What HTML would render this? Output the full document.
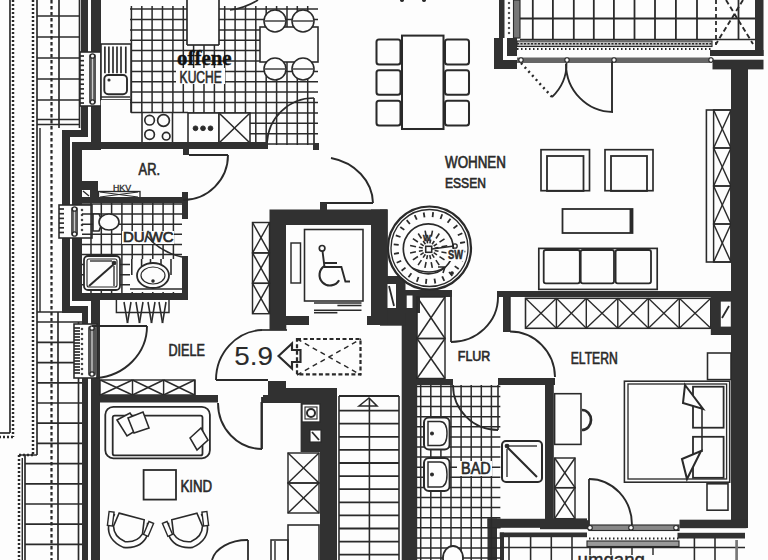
<!DOCTYPE html>
<html><head><meta charset="utf-8"><style>
html,body{margin:0;padding:0;background:#fdfdfd;}
svg{display:block;}
</style></head><body>
<svg width="768" height="560" viewBox="0 0 768 560">
<rect x="0" y="0" width="768" height="560" fill="#fdfdfd"/>
<line x1="10" y1="0" x2="10" y2="433" stroke="#2a2a2a" stroke-width="1.68" />
<line x1="0" y1="433" x2="10" y2="433" stroke="#2a2a2a" stroke-width="1.68" />
<line x1="13" y1="0" x2="13" y2="437" stroke="#2a2a2a" stroke-width="2.46" stroke-dasharray="2 2"/>
<line x1="13" y1="437" x2="0" y2="437" stroke="#2a2a2a" stroke-width="2.46" stroke-dasharray="2 2"/>
<line x1="33" y1="0" x2="33" y2="455" stroke="#2a2a2a" stroke-width="2.46" stroke-dasharray="2 2"/>
<line x1="33" y1="455" x2="19" y2="455" stroke="#2a2a2a" stroke-width="2.46" stroke-dasharray="2 2"/>
<line x1="19" y1="455" x2="19" y2="560" stroke="#2a2a2a" stroke-width="2.46" stroke-dasharray="2 2"/>
<line x1="37" y1="0" x2="37" y2="455" stroke="#2a2a2a" stroke-width="1.68" />
<line x1="40" y1="128" x2="40" y2="312" stroke="#2a2a2a" stroke-width="1.46" />
<line x1="59" y1="0" x2="59" y2="128" stroke="#2a2a2a" stroke-width="1.68" />
<line x1="79.5" y1="0" x2="79.5" y2="128" stroke="#2a2a2a" stroke-width="1.68" />
<line x1="37" y1="16" x2="80" y2="16" stroke="#2a2a2a" stroke-width="1.68" />
<line x1="37" y1="37" x2="80" y2="37" stroke="#2a2a2a" stroke-width="1.68" />
<line x1="37" y1="58" x2="80" y2="58" stroke="#2a2a2a" stroke-width="1.68" />
<line x1="37" y1="79" x2="80" y2="79" stroke="#2a2a2a" stroke-width="1.68" />
<line x1="37" y1="100" x2="80" y2="100" stroke="#2a2a2a" stroke-width="1.68" />
<line x1="37" y1="119.5" x2="80" y2="119.5" stroke="#2a2a2a" stroke-width="1.68" />
<line x1="37" y1="124.5" x2="80" y2="124.5" stroke="#2a2a2a" stroke-width="1.68" />
<line x1="51.5" y1="0" x2="51.5" y2="560" stroke="#2a2a2a" stroke-width="2.24" stroke-dasharray="3.5 2.5"/>
<line x1="37" y1="312" x2="80" y2="312" stroke="#2a2a2a" stroke-width="1.68" />
<line x1="37" y1="322" x2="82" y2="322" stroke="#2a2a2a" stroke-width="1.68" />
<line x1="37" y1="342.4" x2="82" y2="342.4" stroke="#2a2a2a" stroke-width="1.68" />
<line x1="37" y1="362.6" x2="82" y2="362.6" stroke="#2a2a2a" stroke-width="1.68" />
<line x1="37" y1="382.8" x2="82" y2="382.8" stroke="#2a2a2a" stroke-width="1.68" />
<line x1="37" y1="403.0" x2="82" y2="403.0" stroke="#2a2a2a" stroke-width="1.68" />
<line x1="37" y1="423.2" x2="82" y2="423.2" stroke="#2a2a2a" stroke-width="1.68" />
<line x1="37" y1="443.4" x2="82" y2="443.4" stroke="#2a2a2a" stroke-width="1.68" />
<line x1="25" y1="463.6" x2="82" y2="463.6" stroke="#2a2a2a" stroke-width="1.68" />
<line x1="25" y1="483.8" x2="82" y2="483.8" stroke="#2a2a2a" stroke-width="1.68" />
<line x1="25" y1="504.0" x2="82" y2="504.0" stroke="#2a2a2a" stroke-width="1.68" />
<line x1="25" y1="524.2" x2="82" y2="524.2" stroke="#2a2a2a" stroke-width="1.68" />
<line x1="25" y1="544.4" x2="82" y2="544.4" stroke="#2a2a2a" stroke-width="1.68" />
<line x1="20" y1="455" x2="37" y2="455" stroke="#2a2a2a" stroke-width="1.46" />
<line x1="22.3" y1="458" x2="22.3" y2="560" stroke="#2a2a2a" stroke-width="1.46" />
<line x1="25" y1="455" x2="25" y2="560" stroke="#2a2a2a" stroke-width="1.68" />
<line x1="58" y1="312" x2="58" y2="560" stroke="#2a2a2a" stroke-width="1.68" />
<line x1="78.5" y1="322" x2="78.5" y2="560" stroke="#2a2a2a" stroke-width="1.68" />
<rect x="81" y="0" width="7" height="137" fill="#313131" />
<rect x="62" y="130" width="26" height="7" fill="#313131" />
<rect x="62" y="130" width="8" height="183" fill="#313131" />
<rect x="62" y="306" width="26" height="7" fill="#313131" />
<rect x="82" y="306" width="6" height="254" fill="#313131" />
<rect x="91" y="0" width="10" height="150" fill="#313131" />
<rect x="72" y="142" width="29" height="8" fill="#313131" />
<rect x="72" y="142" width="10" height="159" fill="#313131" />
<rect x="72" y="293" width="28" height="8" fill="#313131" />
<rect x="91" y="293" width="9" height="267" fill="#313131" />
<rect x="80" y="52" width="21" height="54" fill="#fdfdfd" />
<rect x="80" y="52" width="21" height="54" rx="0" fill="none" stroke="#2a2a2a" stroke-width="1.57" />
<line x1="80" y1="56" x2="84" y2="56" stroke="#2a2a2a" stroke-width="1.68" />
<line x1="80" y1="60.7" x2="84" y2="60.7" stroke="#2a2a2a" stroke-width="1.68" />
<line x1="80" y1="65.4" x2="84" y2="65.4" stroke="#2a2a2a" stroke-width="1.68" />
<line x1="80" y1="70.1" x2="84" y2="70.1" stroke="#2a2a2a" stroke-width="1.68" />
<line x1="80" y1="74.8" x2="84" y2="74.8" stroke="#2a2a2a" stroke-width="1.68" />
<line x1="80" y1="79.5" x2="84" y2="79.5" stroke="#2a2a2a" stroke-width="1.68" />
<line x1="80" y1="84.2" x2="84" y2="84.2" stroke="#2a2a2a" stroke-width="1.68" />
<line x1="80" y1="88.9" x2="84" y2="88.9" stroke="#2a2a2a" stroke-width="1.68" />
<line x1="80" y1="93.6" x2="84" y2="93.6" stroke="#2a2a2a" stroke-width="1.68" />
<line x1="80" y1="98.3" x2="84" y2="98.3" stroke="#2a2a2a" stroke-width="1.68" />
<line x1="80" y1="103.0" x2="84" y2="103.0" stroke="#2a2a2a" stroke-width="1.68" />
<rect x="89" y="54" width="7" height="50" fill="#555" rx="2"/>
<line x1="92.5" y1="58" x2="92.5" y2="100" stroke="#ccc" stroke-width="1.34" />
<circle cx="92.5" cy="56" r="2.2" fill="#fdfdfd" stroke="#2a2a2a" stroke-width="1.34" />
<circle cx="92.5" cy="102" r="2.2" fill="#fdfdfd" stroke="#2a2a2a" stroke-width="1.34" />
<rect x="59" y="205" width="33" height="33" fill="#fdfdfd" />
<rect x="59" y="205" width="33" height="33" rx="0" fill="none" stroke="#2a2a2a" stroke-width="1.57" />
<line x1="59" y1="209" x2="64" y2="209" stroke="#2a2a2a" stroke-width="1.68" />
<line x1="59" y1="213.7" x2="64" y2="213.7" stroke="#2a2a2a" stroke-width="1.68" />
<line x1="59" y1="218.4" x2="64" y2="218.4" stroke="#2a2a2a" stroke-width="1.68" />
<line x1="59" y1="223.1" x2="64" y2="223.1" stroke="#2a2a2a" stroke-width="1.68" />
<line x1="59" y1="227.8" x2="64" y2="227.8" stroke="#2a2a2a" stroke-width="1.68" />
<line x1="59" y1="232.5" x2="64" y2="232.5" stroke="#2a2a2a" stroke-width="1.68" />
<circle cx="82" cy="210" r="0.9" fill="#2a2a2a" stroke="#2a2a2a" stroke-width="0.67" />
<circle cx="82" cy="215" r="0.9" fill="#2a2a2a" stroke="#2a2a2a" stroke-width="0.67" />
<circle cx="82" cy="220" r="0.9" fill="#2a2a2a" stroke="#2a2a2a" stroke-width="0.67" />
<circle cx="82" cy="225" r="0.9" fill="#2a2a2a" stroke="#2a2a2a" stroke-width="0.67" />
<circle cx="82" cy="230" r="0.9" fill="#2a2a2a" stroke="#2a2a2a" stroke-width="0.67" />
<rect x="71" y="207" width="7" height="29" fill="#555" rx="2"/>
<line x1="74.5" y1="211" x2="74.5" y2="232" stroke="#ccc" stroke-width="1.34" />
<circle cx="74.5" cy="209" r="2.2" fill="#fdfdfd" stroke="#2a2a2a" stroke-width="1.34" />
<circle cx="74.5" cy="234" r="2.2" fill="#fdfdfd" stroke="#2a2a2a" stroke-width="1.34" />
<rect x="74" y="324" width="23" height="54" fill="#fdfdfd" />
<rect x="74" y="324" width="23" height="54" rx="0" fill="none" stroke="#2a2a2a" stroke-width="1.57" />
<line x1="74" y1="328" x2="80" y2="328" stroke="#2a2a2a" stroke-width="1.68" />
<line x1="74" y1="331" x2="80" y2="331" stroke="#2a2a2a" stroke-width="1.68" />
<line x1="74" y1="334" x2="80" y2="334" stroke="#2a2a2a" stroke-width="1.68" />
<line x1="74" y1="337" x2="80" y2="337" stroke="#2a2a2a" stroke-width="1.68" />
<line x1="74" y1="340" x2="80" y2="340" stroke="#2a2a2a" stroke-width="1.68" />
<line x1="74" y1="343" x2="80" y2="343" stroke="#2a2a2a" stroke-width="1.68" />
<line x1="74" y1="346" x2="80" y2="346" stroke="#2a2a2a" stroke-width="1.68" />
<line x1="74" y1="349" x2="80" y2="349" stroke="#2a2a2a" stroke-width="1.68" />
<line x1="74" y1="352" x2="80" y2="352" stroke="#2a2a2a" stroke-width="1.68" />
<line x1="74" y1="355" x2="80" y2="355" stroke="#2a2a2a" stroke-width="1.68" />
<line x1="74" y1="358" x2="80" y2="358" stroke="#2a2a2a" stroke-width="1.68" />
<line x1="74" y1="361" x2="80" y2="361" stroke="#2a2a2a" stroke-width="1.68" />
<line x1="74" y1="364" x2="80" y2="364" stroke="#2a2a2a" stroke-width="1.68" />
<line x1="74" y1="367" x2="80" y2="367" stroke="#2a2a2a" stroke-width="1.68" />
<line x1="74" y1="370" x2="80" y2="370" stroke="#2a2a2a" stroke-width="1.68" />
<line x1="74" y1="373" x2="80" y2="373" stroke="#2a2a2a" stroke-width="1.68" />
<circle cx="82" cy="329" r="0.9" fill="#2a2a2a" stroke="#2a2a2a" stroke-width="0.67" />
<circle cx="82" cy="334" r="0.9" fill="#2a2a2a" stroke="#2a2a2a" stroke-width="0.67" />
<circle cx="82" cy="339" r="0.9" fill="#2a2a2a" stroke="#2a2a2a" stroke-width="0.67" />
<circle cx="82" cy="344" r="0.9" fill="#2a2a2a" stroke="#2a2a2a" stroke-width="0.67" />
<circle cx="82" cy="349" r="0.9" fill="#2a2a2a" stroke="#2a2a2a" stroke-width="0.67" />
<circle cx="82" cy="354" r="0.9" fill="#2a2a2a" stroke="#2a2a2a" stroke-width="0.67" />
<circle cx="82" cy="359" r="0.9" fill="#2a2a2a" stroke="#2a2a2a" stroke-width="0.67" />
<circle cx="82" cy="364" r="0.9" fill="#2a2a2a" stroke="#2a2a2a" stroke-width="0.67" />
<circle cx="82" cy="369" r="0.9" fill="#2a2a2a" stroke="#2a2a2a" stroke-width="0.67" />
<circle cx="82" cy="374" r="0.9" fill="#2a2a2a" stroke="#2a2a2a" stroke-width="0.67" />
<rect x="88" y="326" width="8" height="50" fill="#555" rx="2"/>
<line x1="92.0" y1="330" x2="92.0" y2="372" stroke="#ccc" stroke-width="1.34" />
<circle cx="92.0" cy="328" r="2.2" fill="#fdfdfd" stroke="#2a2a2a" stroke-width="1.34" />
<circle cx="92.0" cy="374" r="2.2" fill="#fdfdfd" stroke="#2a2a2a" stroke-width="1.34" />
<line x1="131.4" y1="6" x2="131.4" y2="145" stroke="#2a2a2a" stroke-width="1.51" />
<line x1="141.8" y1="6" x2="141.8" y2="145" stroke="#2a2a2a" stroke-width="1.51" />
<line x1="152.1" y1="6" x2="152.1" y2="145" stroke="#2a2a2a" stroke-width="1.51" />
<line x1="162.5" y1="6" x2="162.5" y2="145" stroke="#2a2a2a" stroke-width="1.51" />
<line x1="172.9" y1="6" x2="172.9" y2="145" stroke="#2a2a2a" stroke-width="1.51" />
<line x1="183.3" y1="6" x2="183.3" y2="145" stroke="#2a2a2a" stroke-width="1.51" />
<line x1="193.6" y1="6" x2="193.6" y2="145" stroke="#2a2a2a" stroke-width="1.51" />
<line x1="204.0" y1="6" x2="204.0" y2="145" stroke="#2a2a2a" stroke-width="1.51" />
<line x1="214.4" y1="6" x2="214.4" y2="145" stroke="#2a2a2a" stroke-width="1.51" />
<line x1="224.7" y1="6" x2="224.7" y2="145" stroke="#2a2a2a" stroke-width="1.51" />
<line x1="235.1" y1="6" x2="235.1" y2="145" stroke="#2a2a2a" stroke-width="1.51" />
<line x1="245.5" y1="6" x2="245.5" y2="145" stroke="#2a2a2a" stroke-width="1.51" />
<line x1="255.8" y1="6" x2="255.8" y2="145" stroke="#2a2a2a" stroke-width="1.51" />
<line x1="266.2" y1="6" x2="266.2" y2="145" stroke="#2a2a2a" stroke-width="1.51" />
<line x1="276.6" y1="6" x2="276.6" y2="145" stroke="#2a2a2a" stroke-width="1.51" />
<line x1="287.0" y1="6" x2="287.0" y2="145" stroke="#2a2a2a" stroke-width="1.51" />
<line x1="297.3" y1="6" x2="297.3" y2="145" stroke="#2a2a2a" stroke-width="1.51" />
<line x1="307.7" y1="6" x2="307.7" y2="145" stroke="#2a2a2a" stroke-width="1.51" />
<line x1="130" y1="9.1" x2="318" y2="9.1" stroke="#2a2a2a" stroke-width="1.51" />
<line x1="130" y1="19.5" x2="318" y2="19.5" stroke="#2a2a2a" stroke-width="1.51" />
<line x1="130" y1="29.9" x2="318" y2="29.9" stroke="#2a2a2a" stroke-width="1.51" />
<line x1="130" y1="40.2" x2="318" y2="40.2" stroke="#2a2a2a" stroke-width="1.51" />
<line x1="130" y1="50.6" x2="318" y2="50.6" stroke="#2a2a2a" stroke-width="1.51" />
<line x1="130" y1="61.0" x2="318" y2="61.0" stroke="#2a2a2a" stroke-width="1.51" />
<line x1="130" y1="71.4" x2="318" y2="71.4" stroke="#2a2a2a" stroke-width="1.51" />
<line x1="130" y1="81.8" x2="318" y2="81.8" stroke="#2a2a2a" stroke-width="1.51" />
<line x1="130" y1="92.1" x2="318" y2="92.1" stroke="#2a2a2a" stroke-width="1.51" />
<line x1="130" y1="102.5" x2="318" y2="102.5" stroke="#2a2a2a" stroke-width="1.51" />
<line x1="130" y1="112.9" x2="318" y2="112.9" stroke="#2a2a2a" stroke-width="1.51" />
<line x1="130" y1="123.3" x2="318" y2="123.3" stroke="#2a2a2a" stroke-width="1.51" />
<line x1="130" y1="133.7" x2="318" y2="133.7" stroke="#2a2a2a" stroke-width="1.51" />
<line x1="130" y1="144.0" x2="318" y2="144.0" stroke="#2a2a2a" stroke-width="1.51" />
<rect x="101" y="0" width="29" height="44" fill="#fdfdfd" />
<rect x="187" y="0" width="32" height="45" fill="#fdfdfd" />
<line x1="187" y1="0" x2="187" y2="45" stroke="#2a2a2a" stroke-width="1.68" />
<line x1="187" y1="45" x2="219" y2="45" stroke="#2a2a2a" stroke-width="1.68" />
<line x1="219" y1="0" x2="219" y2="45" stroke="#2a2a2a" stroke-width="1.68" />
<rect x="101" y="44" width="30" height="56" rx="0" fill="#fdfdfd" stroke="#2a2a2a" stroke-width="1.57" />
<line x1="104.9" y1="46.6" x2="104.9" y2="73.3" stroke="#2a2a2a" stroke-width="1.68" />
<line x1="108.9" y1="46.6" x2="108.9" y2="73.3" stroke="#2a2a2a" stroke-width="1.68" />
<line x1="113" y1="46.6" x2="113" y2="73.3" stroke="#2a2a2a" stroke-width="1.68" />
<line x1="117" y1="46.6" x2="117" y2="73.3" stroke="#2a2a2a" stroke-width="1.68" />
<line x1="121" y1="46.6" x2="121" y2="73.3" stroke="#2a2a2a" stroke-width="1.68" />
<line x1="125.8" y1="46.6" x2="125.8" y2="73.3" stroke="#2a2a2a" stroke-width="1.68" />
<rect x="104.3" y="75" width="22.7" height="19.2" rx="4" fill="none" stroke="#2a2a2a" stroke-width="1.90" />
<line x1="101" y1="97" x2="130" y2="97" stroke="#2a2a2a" stroke-width="1.46" />
<circle cx="109" cy="80" r="1" fill="#2a2a2a" stroke="#2a2a2a" stroke-width="1.12" />
<rect x="101" y="100" width="29" height="43" fill="#fdfdfd" />
<rect x="101" y="112.5" width="87" height="30" fill="#fdfdfd" />
<line x1="131" y1="100" x2="131" y2="112.5" stroke="#2a2a2a" stroke-width="1.57" />
<line x1="131" y1="112.5" x2="188" y2="112.5" stroke="#2a2a2a" stroke-width="1.68" />
<line x1="142" y1="112.5" x2="142" y2="143" stroke="#2a2a2a" stroke-width="1.57" />
<line x1="172.5" y1="112.5" x2="172.5" y2="143" stroke="#2a2a2a" stroke-width="1.57" />
<circle cx="149.6" cy="120.2" r="4.8" fill="none" stroke="#2a2a2a" stroke-width="1.68" />
<circle cx="163.5" cy="120.5" r="5.9" fill="none" stroke="#2a2a2a" stroke-width="1.68" />
<circle cx="149.6" cy="134.6" r="4.8" fill="none" stroke="#2a2a2a" stroke-width="1.68" />
<circle cx="166.2" cy="136.2" r="3.8" fill="none" stroke="#2a2a2a" stroke-width="1.68" />
<rect x="188" y="113" width="31" height="30" rx="0" fill="#fdfdfd" stroke="#2a2a2a" stroke-width="1.57" />
<circle cx="195.5" cy="128.3" r="2.4" fill="#2a2a2a" stroke="#2a2a2a" stroke-width="0.90" />
<circle cx="203" cy="128.3" r="2.4" fill="#2a2a2a" stroke="#2a2a2a" stroke-width="0.90" />
<circle cx="210.5" cy="128.3" r="2.4" fill="#2a2a2a" stroke="#2a2a2a" stroke-width="0.90" />
<rect x="219" y="113" width="31" height="30" fill="#fdfdfd" />
<rect x="219" y="113" width="31" height="30" rx="0" fill="none" stroke="#2a2a2a" stroke-width="1.57" />
<line x1="219" y1="113" x2="250" y2="143" stroke="#2a2a2a" stroke-width="1.57" />
<line x1="250" y1="113" x2="219" y2="143" stroke="#2a2a2a" stroke-width="1.57" />
<rect x="260" y="27" width="58" height="35" rx="0" fill="#fdfdfd" stroke="#2a2a2a" stroke-width="1.57" />
<circle cx="275" cy="21" r="11" fill="#fdfdfd" stroke="#2a2a2a" stroke-width="1.57" />
<line x1="265" y1="21" x2="285" y2="21" stroke="#2a2a2a" stroke-width="1.34" />
<circle cx="303" cy="21" r="11" fill="#fdfdfd" stroke="#2a2a2a" stroke-width="1.57" />
<line x1="293" y1="21" x2="313" y2="21" stroke="#2a2a2a" stroke-width="1.34" />
<circle cx="275" cy="69" r="11" fill="#fdfdfd" stroke="#2a2a2a" stroke-width="1.57" />
<line x1="265" y1="69" x2="285" y2="69" stroke="#2a2a2a" stroke-width="1.34" />
<circle cx="303" cy="69" r="11" fill="#fdfdfd" stroke="#2a2a2a" stroke-width="1.57" />
<line x1="293" y1="69" x2="313" y2="69" stroke="#2a2a2a" stroke-width="1.34" />
<path d="M230,10 Q245,8 258,0" fill="none" stroke="#2a2a2a" stroke-width="1.68" />
<path d="M267,143 A47,47 0 0 1 314,98" fill="none" stroke="#2a2a2a" stroke-width="1.68" />
<line x1="314" y1="98" x2="314" y2="143" stroke="#2a2a2a" stroke-width="1.68" />
<rect x="72" y="142" width="196" height="7" fill="#313131" />
<rect x="313" y="143" width="6" height="7" fill="#313131" />
<text x="0" y="0" font-family="Liberation Serif" font-size="20.42" font-weight="bold" fill="#111" stroke="#111" stroke-width="0.39" transform="translate(177.00,64.80) scale(1.026,1)" >offene</text>
<rect x="176" y="68" width="49" height="16" fill="#fdfdfd" />
<text x="0" y="0" font-family="Liberation Sans" font-size="16.90" font-weight="normal" fill="#2a2a2a" stroke="#2a2a2a" stroke-width="0.67" transform="translate(179.60,82.53) scale(0.713,1)" >KUCHE</text>
<rect x="72" y="142" width="196" height="7" fill="#313131" />
<rect x="80" y="181" width="18" height="22" fill="#313131" />
<rect x="82" y="190" width="8" height="7" fill="#fdfdfd" />
<line x1="83" y1="191" x2="89" y2="196" stroke="#2a2a2a" stroke-width="1.34" />
<rect x="98.5" y="191.5" width="41.5" height="6.5" rx="0" fill="none" stroke="#2a2a2a" stroke-width="1.34" />
<line x1="100" y1="192" x2="138" y2="197" stroke="#2a2a2a" stroke-width="1.12" />
<line x1="100" y1="197" x2="138" y2="192" stroke="#2a2a2a" stroke-width="1.12" />
<text x="0" y="0" font-family="Liberation Sans" font-size="9.42" font-weight="normal" fill="#2a2a2a" stroke="#2a2a2a" stroke-width="0.34" transform="translate(113.00,190.50) scale(0.930,1)" >HKV</text>
<rect x="72" y="197" width="115" height="6" fill="#313131" />
<rect x="182" y="192" width="6" height="27" fill="#313131" />
<rect x="183" y="149" width="6" height="6" fill="#313131" />
<line x1="189" y1="155" x2="228" y2="155" stroke="#2a2a2a" stroke-width="1.79" />
<path d="M228,155 A45,45 0 0 1 183,200" fill="none" stroke="#2a2a2a" stroke-width="1.90" />
<text x="0" y="0" font-family="Liberation Sans" font-size="16.67" font-weight="normal" fill="#2a2a2a" stroke="#2a2a2a" stroke-width="0.67" transform="translate(138.60,174.50) scale(0.771,1)" >AR.</text>
<line x1="91" y1="203" x2="91" y2="293" stroke="#2a2a2a" stroke-width="1.51" />
<line x1="101.3" y1="203" x2="101.3" y2="293" stroke="#2a2a2a" stroke-width="1.51" />
<line x1="111.6" y1="203" x2="111.6" y2="293" stroke="#2a2a2a" stroke-width="1.51" />
<line x1="121.9" y1="203" x2="121.9" y2="293" stroke="#2a2a2a" stroke-width="1.51" />
<line x1="132.2" y1="203" x2="132.2" y2="293" stroke="#2a2a2a" stroke-width="1.51" />
<line x1="142.5" y1="203" x2="142.5" y2="293" stroke="#2a2a2a" stroke-width="1.51" />
<line x1="152.8" y1="203" x2="152.8" y2="293" stroke="#2a2a2a" stroke-width="1.51" />
<line x1="163.1" y1="203" x2="163.1" y2="293" stroke="#2a2a2a" stroke-width="1.51" />
<line x1="173.4" y1="203" x2="173.4" y2="293" stroke="#2a2a2a" stroke-width="1.51" />
<line x1="82" y1="204" x2="182" y2="204" stroke="#2a2a2a" stroke-width="1.51" />
<line x1="82" y1="214.1" x2="182" y2="214.1" stroke="#2a2a2a" stroke-width="1.51" />
<line x1="82" y1="224.2" x2="182" y2="224.2" stroke="#2a2a2a" stroke-width="1.51" />
<line x1="82" y1="234.3" x2="182" y2="234.3" stroke="#2a2a2a" stroke-width="1.51" />
<line x1="82" y1="244.4" x2="182" y2="244.4" stroke="#2a2a2a" stroke-width="1.51" />
<line x1="82" y1="254.5" x2="182" y2="254.5" stroke="#2a2a2a" stroke-width="1.51" />
<line x1="82" y1="264.6" x2="182" y2="264.6" stroke="#2a2a2a" stroke-width="1.51" />
<line x1="82" y1="274.7" x2="182" y2="274.7" stroke="#2a2a2a" stroke-width="1.51" />
<line x1="82" y1="284.8" x2="182" y2="284.8" stroke="#2a2a2a" stroke-width="1.51" />
<path d="M93,214 L99,214 Q104,222 99,231 L93,231 Z" fill="#fdfdfd" stroke="#2a2a2a" stroke-width="1.57" />
<ellipse cx="109" cy="222" rx="10" ry="8" fill="#fdfdfd" stroke="#2a2a2a" stroke-width="1.6"/>
<rect x="122" y="231" width="52" height="13" fill="#fdfdfd" />
<text x="0" y="0" font-family="Liberation Sans" font-size="14.56" font-weight="normal" fill="#2a2a2a" stroke="#2a2a2a" stroke-width="0.67" transform="translate(123.00,242.15) scale(1.028,1)" >DU/WC</text>
<path d="M147,236 Q160,252 182,257" fill="none" stroke="#2a2a2a" stroke-width="1.46" />
<rect x="84" y="256" width="36" height="34" rx="4" fill="#fdfdfd" stroke="#2a2a2a" stroke-width="1.79" />
<rect x="87" y="259" width="30" height="28" rx="2" fill="none" stroke="#2a2a2a" stroke-width="1.12" />
<line x1="89" y1="286" x2="114" y2="264" stroke="#2a2a2a" stroke-width="2.02" />
<line x1="114" y1="266" x2="114" y2="286" stroke="#2a2a2a" stroke-width="1.34" />
<line x1="90" y1="261" x2="112" y2="261" stroke="#2a2a2a" stroke-width="1.34" />
<circle cx="114" cy="263" r="1.8" fill="#2a2a2a" stroke="#2a2a2a" stroke-width="1.12" />
<rect x="130" y="259" width="52" height="33" fill="#fdfdfd" />
<line x1="131.8" y1="259" x2="131.8" y2="275" stroke="#2a2a2a" stroke-width="1.57" />
<line x1="141.6" y1="259" x2="141.6" y2="275" stroke="#2a2a2a" stroke-width="1.57" />
<line x1="150.5" y1="259" x2="150.5" y2="275" stroke="#2a2a2a" stroke-width="1.57" />
<line x1="161" y1="259" x2="161" y2="275" stroke="#2a2a2a" stroke-width="1.57" />
<line x1="171" y1="259" x2="171" y2="275" stroke="#2a2a2a" stroke-width="1.57" />
<ellipse cx="153" cy="275.5" rx="16" ry="12.5" fill="#fdfdfd" stroke="#2a2a2a" stroke-width="1.8"/>
<ellipse cx="153" cy="275.5" rx="12" ry="8.5" fill="none" stroke="#2a2a2a" stroke-width="1.2"/>
<circle cx="153" cy="281" r="1.2" fill="#2a2a2a" stroke="#2a2a2a" stroke-width="1.12" />
<line x1="130" y1="289" x2="182" y2="289" stroke="#2a2a2a" stroke-width="1.57" />
<rect x="72" y="293" width="116" height="7" fill="#313131" />
<rect x="182" y="256" width="6" height="44" fill="#313131" />
<path d="M116.4,300 L116.4,312.5 L169,312.5 L169,300" fill="none" stroke="#2a2a2a" stroke-width="1.46" />
<line x1="124" y1="302" x2="127.5" y2="323" stroke="#2a2a2a" stroke-width="1.57" />
<line x1="127.5" y1="323" x2="131" y2="302" stroke="#2a2a2a" stroke-width="1.57" />
<line x1="136" y1="302" x2="139.5" y2="323" stroke="#2a2a2a" stroke-width="1.57" />
<line x1="139.5" y1="323" x2="143" y2="302" stroke="#2a2a2a" stroke-width="1.57" />
<line x1="148" y1="302" x2="151.5" y2="323" stroke="#2a2a2a" stroke-width="1.57" />
<line x1="151.5" y1="323" x2="155" y2="302" stroke="#2a2a2a" stroke-width="1.57" />
<line x1="159" y1="302" x2="162.5" y2="323" stroke="#2a2a2a" stroke-width="1.57" />
<line x1="162.5" y1="323" x2="166" y2="302" stroke="#2a2a2a" stroke-width="1.57" />
<line x1="92" y1="326" x2="147" y2="326" stroke="#2a2a2a" stroke-width="1.79" />
<path d="M147,326 A55,52 0 0 1 96,378" fill="none" stroke="#2a2a2a" stroke-width="1.90" />
<rect x="100" y="380" width="95" height="15" rx="0" fill="none" stroke="#2a2a2a" stroke-width="1.46" />
<line x1="100.4" y1="380" x2="132.5" y2="395" stroke="#2a2a2a" stroke-width="1.46" />
<line x1="132.5" y1="380" x2="100.4" y2="395" stroke="#2a2a2a" stroke-width="1.46" />
<line x1="132.5" y1="380" x2="132.5" y2="395" stroke="#2a2a2a" stroke-width="1.46" />
<line x1="132.5" y1="380" x2="163.6" y2="395" stroke="#2a2a2a" stroke-width="1.46" />
<line x1="163.6" y1="380" x2="132.5" y2="395" stroke="#2a2a2a" stroke-width="1.46" />
<line x1="163.6" y1="380" x2="163.6" y2="395" stroke="#2a2a2a" stroke-width="1.46" />
<line x1="163.6" y1="380" x2="194.6" y2="395" stroke="#2a2a2a" stroke-width="1.46" />
<line x1="194.6" y1="380" x2="163.6" y2="395" stroke="#2a2a2a" stroke-width="1.46" />
<line x1="194.6" y1="380" x2="194.6" y2="395" stroke="#2a2a2a" stroke-width="1.46" />
<rect x="100" y="395" width="118" height="7.5" fill="#313131" />
<text x="0" y="0" font-family="Liberation Sans" font-size="15.94" font-weight="normal" fill="#2a2a2a" stroke="#2a2a2a" stroke-width="0.67" transform="translate(168.50,356.00) scale(0.792,1)" >DIELE</text>
<rect x="269.5" y="209.5" width="118" height="115.5" fill="#313131" />
<rect x="286" y="225" width="85" height="91" fill="#fdfdfd" />
<rect x="309" y="316" width="58" height="9.5" fill="#fdfdfd" />
<rect x="252.5" y="222.5" width="17" height="30.4" rx="0" fill="none" stroke="#2a2a2a" stroke-width="1.46" />
<line x1="252.5" y1="222.5" x2="269.5" y2="252.9" stroke="#2a2a2a" stroke-width="1.46" />
<line x1="269.5" y1="222.5" x2="252.5" y2="252.9" stroke="#2a2a2a" stroke-width="1.46" />
<rect x="252.5" y="252.9" width="17" height="30.4" rx="0" fill="none" stroke="#2a2a2a" stroke-width="1.46" />
<line x1="252.5" y1="252.9" x2="269.5" y2="283.3" stroke="#2a2a2a" stroke-width="1.46" />
<line x1="269.5" y1="252.9" x2="252.5" y2="283.3" stroke="#2a2a2a" stroke-width="1.46" />
<rect x="252.5" y="283.3" width="17" height="30.4" rx="0" fill="none" stroke="#2a2a2a" stroke-width="1.46" />
<line x1="252.5" y1="283.3" x2="269.5" y2="313.7" stroke="#2a2a2a" stroke-width="1.46" />
<line x1="269.5" y1="283.3" x2="252.5" y2="313.7" stroke="#2a2a2a" stroke-width="1.46" />
<rect x="304.5" y="229.5" width="58.5" height="71.5" rx="0" fill="none" stroke="#2a2a2a" stroke-width="1.57" />
<rect x="291" y="243" width="9.5" height="40" rx="0" fill="none" stroke="#2a2a2a" stroke-width="1.46" />
<circle cx="322.1" cy="248.3" r="2.8" fill="none" stroke="#2a2a2a" stroke-width="1.68" />
<path d="M322.5,251 L324.5,267 L341.4,267 L345.4,281.5 L350,281.5 M324.5,263 L337,263" fill="none" stroke="#2a2a2a" stroke-width="1.90" />
<path d="M324.75,265.9 A10.5,10.5 0 1 0 339.1,280.25" fill="none" stroke="#2a2a2a" stroke-width="2.13" />
<line x1="314" y1="303" x2="361.5" y2="303" stroke="#2a2a2a" stroke-width="1.57" />
<line x1="314" y1="310.3" x2="361.5" y2="310.3" stroke="#2a2a2a" stroke-width="1.57" />
<line x1="337.4" y1="305.5" x2="361.5" y2="305.5" stroke="#2a2a2a" stroke-width="1.57" />
<line x1="314" y1="312.7" x2="337.4" y2="312.7" stroke="#2a2a2a" stroke-width="1.57" />
<line x1="320" y1="203" x2="373" y2="203" stroke="#2a2a2a" stroke-width="1.79" />
<rect x="320" y="203" width="7" height="7" fill="#313131" />
<path d="M331,158 A53,47 0 0 1 373,203" fill="none" stroke="#2a2a2a" stroke-width="1.90" />
<path d="M262,330 A48,50 0 0 0 216,380" fill="none" stroke="#2a2a2a" stroke-width="1.90" />
<line x1="216" y1="380" x2="268" y2="380" stroke="#2a2a2a" stroke-width="1.79" />
<line x1="262" y1="330" x2="287" y2="330" stroke="#2a2a2a" stroke-width="1.68" />
<text x="0" y="0" font-family="Liberation Sans" font-size="24.93" font-weight="normal" fill="#2a2a2a" stroke="#2a2a2a" stroke-width="0.11" transform="translate(234.30,365.15) scale(1.117,1)" >5.9</text>
<path d="M278.5,356 L292,343.5 L292,350 L300.5,350 L300.5,362 L292,362 L292,368.5 Z" fill="none" stroke="#2a2a2a" stroke-width="2.13" />
<rect x="269.5" y="325" width="16.8" height="5" fill="#313131" />
<rect x="297" y="339" width="63.5" height="35.4" rx="0" fill="none" stroke="#2a2a2a" stroke-width="2.24" stroke-dasharray="4 2.5"/>
<path d="M297,339 L329,357 L361,339 M297,375 L329,357 L361,375" fill="none" stroke="#2a2a2a" stroke-width="1.46" stroke-dasharray="5 4"/>
<polygon points="268,381 286,381 286,388 337,388 337,560 320,560 320,452 300.6,452 300.6,403 262,403 262,397 268,397" fill="#313131"/>
<rect x="302" y="404" width="18" height="18" rx="0" fill="#fdfdfd" stroke="#2a2a2a" stroke-width="1.34" />
<circle cx="311" cy="413" r="4" fill="none" stroke="#2a2a2a" stroke-width="2.02" />
<rect x="305" y="407" width="12" height="12" rx="0" fill="none" stroke="#2a2a2a" stroke-width="1.12" />
<rect x="310" y="430" width="11" height="12" rx="0" fill="#fdfdfd" stroke="#2a2a2a" stroke-width="1.12" />
<line x1="312" y1="432" x2="319" y2="440" stroke="#2a2a2a" stroke-width="1.79" />
<rect x="288" y="453" width="31" height="30" rx="0" fill="none" stroke="#2a2a2a" stroke-width="1.46" />
<line x1="288" y1="453" x2="319" y2="483" stroke="#2a2a2a" stroke-width="1.46" />
<line x1="319" y1="453" x2="288" y2="483" stroke="#2a2a2a" stroke-width="1.46" />
<rect x="288" y="483" width="31" height="30" rx="0" fill="none" stroke="#2a2a2a" stroke-width="1.46" />
<line x1="288" y1="483" x2="319" y2="513" stroke="#2a2a2a" stroke-width="1.46" />
<line x1="319" y1="483" x2="288" y2="513" stroke="#2a2a2a" stroke-width="1.46" />
<rect x="288" y="525" width="31" height="40" rx="0" fill="#fdfdfd" stroke="#2a2a2a" stroke-width="1.57" />
<rect x="271" y="540" width="17" height="25" rx="0" fill="none" stroke="#2a2a2a" stroke-width="1.57" />
<line x1="275" y1="541" x2="275" y2="560" stroke="#2a2a2a" stroke-width="1.46" />
<line x1="262" y1="397" x2="262" y2="449" stroke="#2a2a2a" stroke-width="1.79" />
<path d="M218,403 A44,46 0 0 0 262,449" fill="none" stroke="#2a2a2a" stroke-width="1.90" />
<line x1="339" y1="396" x2="399" y2="396" stroke="#2a2a2a" stroke-width="1.79" />
<line x1="339" y1="396" x2="339" y2="560" stroke="#2a2a2a" stroke-width="1.57" />
<line x1="399" y1="396" x2="399" y2="560" stroke="#2a2a2a" stroke-width="1.57" />
<line x1="339" y1="410.6" x2="399" y2="410.6" stroke="#2a2a2a" stroke-width="1.79" />
<line x1="339" y1="423.7" x2="399" y2="423.7" stroke="#2a2a2a" stroke-width="1.79" />
<line x1="339" y1="436.8" x2="399" y2="436.8" stroke="#2a2a2a" stroke-width="1.79" />
<line x1="339" y1="449.9" x2="399" y2="449.9" stroke="#2a2a2a" stroke-width="1.79" />
<line x1="339" y1="463.0" x2="399" y2="463.0" stroke="#2a2a2a" stroke-width="1.79" />
<line x1="339" y1="476.1" x2="399" y2="476.1" stroke="#2a2a2a" stroke-width="1.79" />
<line x1="339" y1="489.2" x2="399" y2="489.2" stroke="#2a2a2a" stroke-width="1.79" />
<line x1="339" y1="502.3" x2="399" y2="502.3" stroke="#2a2a2a" stroke-width="1.79" />
<line x1="339" y1="515.4" x2="399" y2="515.4" stroke="#2a2a2a" stroke-width="1.79" />
<line x1="339" y1="528.5" x2="399" y2="528.5" stroke="#2a2a2a" stroke-width="1.79" />
<line x1="339" y1="541.6" x2="399" y2="541.6" stroke="#2a2a2a" stroke-width="1.79" />
<line x1="339" y1="554.7" x2="399" y2="554.7" stroke="#2a2a2a" stroke-width="1.79" />
<line x1="369.4" y1="398" x2="369.4" y2="560" stroke="#2a2a2a" stroke-width="1.57" />
<path d="M359,406 L369,398 L377,406 Z" fill="none" stroke="#2a2a2a" stroke-width="1.57" />
<rect x="401.7" y="300" width="15.5" height="260" fill="#313131" />
<rect x="371" y="209.5" width="16.5" height="115.5" fill="#313131" />
<rect x="380" y="276" width="25.5" height="49.7" fill="#313131" />
<rect x="387" y="284" width="9" height="24" fill="#fdfdfd" />
<line x1="389" y1="286" x2="394" y2="306" stroke="#2a2a2a" stroke-width="1.79" />
<rect x="405" y="290" width="47" height="7" fill="#313131" />
<rect x="405" y="297" width="15" height="16" fill="#313131" />
<rect x="406.7" y="295.5" width="5.8" height="12.5" fill="#fdfdfd" />
<circle cx="429.5" cy="248" r="41.5" fill="#fdfdfd" stroke="#2a2a2a" stroke-width="2.24" />
<circle cx="429.5" cy="248" r="38.5" fill="none" stroke="#2a2a2a" stroke-width="1.34" />
<line x1="460.3" y1="251.1" x2="465.3" y2="251.6" stroke="#2a2a2a" stroke-width="1.79" />
<line x1="458.5" y1="259.0" x2="463.2" y2="260.7" stroke="#2a2a2a" stroke-width="1.79" />
<line x1="454.7" y1="266.1" x2="458.7" y2="269.0" stroke="#2a2a2a" stroke-width="1.79" />
<line x1="449.1" y1="272.0" x2="452.3" y2="275.9" stroke="#2a2a2a" stroke-width="1.79" />
<line x1="442.2" y1="276.3" x2="444.3" y2="280.8" stroke="#2a2a2a" stroke-width="1.79" />
<line x1="434.5" y1="278.6" x2="435.3" y2="283.5" stroke="#2a2a2a" stroke-width="1.79" />
<line x1="426.4" y1="278.8" x2="425.9" y2="283.8" stroke="#2a2a2a" stroke-width="1.79" />
<line x1="418.5" y1="277.0" x2="416.8" y2="281.7" stroke="#2a2a2a" stroke-width="1.79" />
<line x1="411.4" y1="273.2" x2="408.5" y2="277.2" stroke="#2a2a2a" stroke-width="1.79" />
<line x1="405.5" y1="267.6" x2="401.6" y2="270.8" stroke="#2a2a2a" stroke-width="1.79" />
<line x1="401.2" y1="260.7" x2="396.7" y2="262.8" stroke="#2a2a2a" stroke-width="1.79" />
<line x1="398.9" y1="253.0" x2="394.0" y2="253.8" stroke="#2a2a2a" stroke-width="1.79" />
<line x1="398.7" y1="244.9" x2="393.7" y2="244.4" stroke="#2a2a2a" stroke-width="1.79" />
<line x1="400.5" y1="237.0" x2="395.8" y2="235.3" stroke="#2a2a2a" stroke-width="1.79" />
<line x1="404.3" y1="229.9" x2="400.3" y2="227.0" stroke="#2a2a2a" stroke-width="1.79" />
<line x1="409.9" y1="224.0" x2="406.7" y2="220.1" stroke="#2a2a2a" stroke-width="1.79" />
<line x1="416.8" y1="219.7" x2="414.7" y2="215.2" stroke="#2a2a2a" stroke-width="1.79" />
<line x1="424.5" y1="217.4" x2="423.7" y2="212.5" stroke="#2a2a2a" stroke-width="1.79" />
<line x1="432.6" y1="217.2" x2="433.1" y2="212.2" stroke="#2a2a2a" stroke-width="1.79" />
<line x1="440.5" y1="219.0" x2="442.2" y2="214.3" stroke="#2a2a2a" stroke-width="1.79" />
<line x1="447.6" y1="222.8" x2="450.5" y2="218.8" stroke="#2a2a2a" stroke-width="1.79" />
<line x1="453.5" y1="228.4" x2="457.4" y2="225.2" stroke="#2a2a2a" stroke-width="1.79" />
<line x1="457.8" y1="235.3" x2="462.3" y2="233.2" stroke="#2a2a2a" stroke-width="1.79" />
<line x1="460.1" y1="243.0" x2="465.0" y2="242.2" stroke="#2a2a2a" stroke-width="1.79" />
<circle cx="428.3" cy="248.8" r="25" fill="none" stroke="#2a2a2a" stroke-width="1.68" />
<line x1="434.6" y1="250.5" x2="438.5" y2="251.3" stroke="#2a2a2a" stroke-width="1.57" />
<line x1="441.4" y1="251.9" x2="447.3" y2="253.1" stroke="#2a2a2a" stroke-width="1.57" />
<line x1="433.7" y1="252.7" x2="437.0" y2="254.9" stroke="#2a2a2a" stroke-width="1.57" />
<line x1="439.5" y1="256.6" x2="444.5" y2="259.9" stroke="#2a2a2a" stroke-width="1.57" />
<line x1="432.0" y1="254.3" x2="434.2" y2="257.6" stroke="#2a2a2a" stroke-width="1.57" />
<line x1="435.9" y1="260.1" x2="439.2" y2="265.1" stroke="#2a2a2a" stroke-width="1.57" />
<line x1="429.8" y1="255.2" x2="430.6" y2="259.1" stroke="#2a2a2a" stroke-width="1.57" />
<line x1="431.2" y1="262.1" x2="432.3" y2="267.9" stroke="#2a2a2a" stroke-width="1.57" />
<line x1="427.5" y1="255.2" x2="426.7" y2="259.1" stroke="#2a2a2a" stroke-width="1.57" />
<line x1="426.1" y1="262.0" x2="424.9" y2="267.9" stroke="#2a2a2a" stroke-width="1.57" />
<line x1="425.3" y1="254.3" x2="423.1" y2="257.6" stroke="#2a2a2a" stroke-width="1.57" />
<line x1="421.4" y1="260.1" x2="418.1" y2="265.1" stroke="#2a2a2a" stroke-width="1.57" />
<line x1="423.7" y1="252.6" x2="420.4" y2="254.8" stroke="#2a2a2a" stroke-width="1.57" />
<line x1="417.9" y1="256.5" x2="412.9" y2="259.8" stroke="#2a2a2a" stroke-width="1.57" />
<line x1="422.8" y1="250.4" x2="418.9" y2="251.2" stroke="#2a2a2a" stroke-width="1.57" />
<line x1="415.9" y1="251.8" x2="410.1" y2="252.9" stroke="#2a2a2a" stroke-width="1.57" />
<line x1="422.8" y1="248.1" x2="418.9" y2="247.3" stroke="#2a2a2a" stroke-width="1.57" />
<line x1="416.0" y1="246.7" x2="410.1" y2="245.5" stroke="#2a2a2a" stroke-width="1.57" />
<line x1="423.7" y1="245.9" x2="420.4" y2="243.7" stroke="#2a2a2a" stroke-width="1.57" />
<line x1="417.9" y1="242.0" x2="412.9" y2="238.7" stroke="#2a2a2a" stroke-width="1.57" />
<line x1="425.4" y1="244.3" x2="423.2" y2="241.0" stroke="#2a2a2a" stroke-width="1.57" />
<line x1="421.5" y1="238.5" x2="418.2" y2="233.5" stroke="#2a2a2a" stroke-width="1.57" />
<line x1="427.6" y1="243.4" x2="426.8" y2="239.5" stroke="#2a2a2a" stroke-width="1.57" />
<line x1="426.2" y1="236.5" x2="425.1" y2="230.7" stroke="#2a2a2a" stroke-width="1.57" />
<line x1="429.9" y1="243.4" x2="430.7" y2="239.5" stroke="#2a2a2a" stroke-width="1.57" />
<line x1="431.3" y1="236.6" x2="432.5" y2="230.7" stroke="#2a2a2a" stroke-width="1.57" />
<line x1="432.1" y1="244.3" x2="434.3" y2="241.0" stroke="#2a2a2a" stroke-width="1.57" />
<line x1="436.0" y1="238.5" x2="439.3" y2="233.5" stroke="#2a2a2a" stroke-width="1.57" />
<line x1="433.7" y1="246.0" x2="437.0" y2="243.8" stroke="#2a2a2a" stroke-width="1.57" />
<line x1="439.5" y1="242.1" x2="444.5" y2="238.8" stroke="#2a2a2a" stroke-width="1.57" />
<line x1="434.6" y1="248.2" x2="438.5" y2="247.4" stroke="#2a2a2a" stroke-width="1.57" />
<line x1="441.5" y1="246.8" x2="447.3" y2="245.7" stroke="#2a2a2a" stroke-width="1.57" />
<rect x="425.7" y="246.3" width="6" height="6" rx="0" fill="#fdfdfd" stroke="#2a2a2a" stroke-width="1.57" />
<text x="0" y="0" font-family="Liberation Sans" font-size="8.70" font-weight="bold" fill="#2a2a2a" stroke="#2a2a2a" stroke-width="0.50" transform="translate(423.00,241.00) scale(0.974,1)" >W</text>
<line x1="432" y1="249" x2="454" y2="246" stroke="#2a2a2a" stroke-width="1.46" />
<circle cx="455" cy="246" r="2.2" fill="none" stroke="#2a2a2a" stroke-width="1.34" />
<rect x="446.5" y="249" width="18" height="12" fill="#fdfdfd" />
<text x="0" y="0" font-family="Liberation Sans" font-size="12.68" font-weight="bold" fill="#2a2a2a" stroke="#2a2a2a" stroke-width="0.50" transform="translate(448.00,258.87) scale(0.735,1)" >SW</text>
<path d="M412,268 Q430,276 444,268 M438,267 L445,267 L443,273" fill="none" stroke="#2a2a2a" stroke-width="1.57" />
<circle cx="452" cy="273" r="1.3" fill="#2a2a2a" stroke="#2a2a2a" stroke-width="1.12" />
<rect x="380" y="209.5" width="7.5" height="115.5" fill="#313131" />
<rect x="402" y="35.6" width="41.5" height="93.4" rx="0" fill="#fdfdfd" stroke="#2a2a2a" stroke-width="2.02" />
<rect x="376.5" y="39.5" width="24" height="25" rx="2.5" fill="none" stroke="#2a2a2a" stroke-width="2.02" />
<rect x="445" y="39.5" width="24" height="25" rx="2.5" fill="none" stroke="#2a2a2a" stroke-width="2.02" />
<rect x="376.5" y="70.3" width="24" height="24.4" rx="2.5" fill="none" stroke="#2a2a2a" stroke-width="2.02" />
<rect x="445" y="70.3" width="24" height="24.4" rx="2.5" fill="none" stroke="#2a2a2a" stroke-width="2.02" />
<rect x="376.5" y="100.8" width="24" height="24.8" rx="2.5" fill="none" stroke="#2a2a2a" stroke-width="2.02" />
<rect x="445" y="100.8" width="24" height="24.8" rx="2.5" fill="none" stroke="#2a2a2a" stroke-width="2.02" />
<circle cx="402" cy="0" r="1.5" fill="#2a2a2a" stroke="#2a2a2a" stroke-width="1.12" />
<circle cx="424" cy="0" r="1.5" fill="#2a2a2a" stroke="#2a2a2a" stroke-width="1.12" />
<rect x="541" y="149.7" width="48.5" height="41" rx="0" fill="none" stroke="#2a2a2a" stroke-width="1.68" />
<rect x="547" y="156" width="36.5" height="35" rx="0" fill="none" stroke="#2a2a2a" stroke-width="1.79" />
<rect x="605" y="149.7" width="48" height="41" rx="0" fill="none" stroke="#2a2a2a" stroke-width="1.68" />
<rect x="611" y="156" width="36" height="35" rx="0" fill="none" stroke="#2a2a2a" stroke-width="1.79" />
<rect x="562.5" y="209" width="70" height="24" rx="0" fill="none" stroke="#2a2a2a" stroke-width="1.79" />
<line x1="631" y1="209" x2="631" y2="233" stroke="#2a2a2a" stroke-width="2.91" />
<rect x="538.8" y="248.4" width="118.4" height="41" rx="0" fill="none" stroke="#2a2a2a" stroke-width="1.68" />
<rect x="543.7" y="250" width="36.09999999999991" height="33.3" rx="2" fill="none" stroke="#2a2a2a" stroke-width="1.79" />
<rect x="580.7" y="250" width="33.299999999999955" height="33.3" rx="2" fill="none" stroke="#2a2a2a" stroke-width="1.79" />
<rect x="615.6" y="250" width="35.39999999999998" height="33.3" rx="2" fill="none" stroke="#2a2a2a" stroke-width="1.79" />
<rect x="706.4" y="110" width="24.6" height="152" rx="0" fill="none" stroke="#2a2a2a" stroke-width="1.57" />
<rect x="713.6" y="110" width="17.4" height="38" rx="0" fill="none" stroke="#2a2a2a" stroke-width="1.46" />
<line x1="713.6" y1="110" x2="731.0" y2="148" stroke="#2a2a2a" stroke-width="1.46" />
<line x1="731.0" y1="110" x2="713.6" y2="148" stroke="#2a2a2a" stroke-width="1.46" />
<rect x="713.6" y="148" width="17.4" height="38" rx="0" fill="none" stroke="#2a2a2a" stroke-width="1.46" />
<line x1="713.6" y1="148" x2="731.0" y2="186" stroke="#2a2a2a" stroke-width="1.46" />
<line x1="731.0" y1="148" x2="713.6" y2="186" stroke="#2a2a2a" stroke-width="1.46" />
<rect x="713.6" y="186" width="17.4" height="38" rx="0" fill="none" stroke="#2a2a2a" stroke-width="1.46" />
<line x1="713.6" y1="186" x2="731.0" y2="224" stroke="#2a2a2a" stroke-width="1.46" />
<line x1="731.0" y1="186" x2="713.6" y2="224" stroke="#2a2a2a" stroke-width="1.46" />
<rect x="713.6" y="224" width="17.4" height="38" rx="0" fill="none" stroke="#2a2a2a" stroke-width="1.46" />
<line x1="713.6" y1="224" x2="731.0" y2="262" stroke="#2a2a2a" stroke-width="1.46" />
<line x1="731.0" y1="224" x2="713.6" y2="262" stroke="#2a2a2a" stroke-width="1.46" />
<rect x="499" y="0" width="5.5" height="38" fill="#313131" />
<rect x="513.5" y="0" width="6.5" height="38" rx="0" fill="#777" stroke="#2a2a2a" stroke-width="1.12" />
<circle cx="509" cy="3" r="0.8" fill="#2a2a2a" stroke="#2a2a2a" stroke-width="0.78" />
<circle cx="509" cy="8" r="0.8" fill="#2a2a2a" stroke="#2a2a2a" stroke-width="0.78" />
<circle cx="509" cy="13" r="0.8" fill="#2a2a2a" stroke="#2a2a2a" stroke-width="0.78" />
<circle cx="509" cy="18" r="0.8" fill="#2a2a2a" stroke="#2a2a2a" stroke-width="0.78" />
<circle cx="509" cy="23" r="0.8" fill="#2a2a2a" stroke="#2a2a2a" stroke-width="0.78" />
<circle cx="509" cy="28" r="0.8" fill="#2a2a2a" stroke="#2a2a2a" stroke-width="0.78" />
<circle cx="509" cy="33" r="0.8" fill="#2a2a2a" stroke="#2a2a2a" stroke-width="0.78" />
<line x1="532.8" y1="0" x2="532.8" y2="40" stroke="#2a2a2a" stroke-width="1.79" />
<line x1="552.9" y1="0" x2="552.9" y2="40" stroke="#2a2a2a" stroke-width="1.79" />
<line x1="573.8" y1="0" x2="573.8" y2="40" stroke="#2a2a2a" stroke-width="1.79" />
<line x1="593.8" y1="0" x2="593.8" y2="40" stroke="#2a2a2a" stroke-width="1.79" />
<line x1="613.9" y1="0" x2="613.9" y2="40" stroke="#2a2a2a" stroke-width="1.79" />
<line x1="634.5" y1="0" x2="634.5" y2="40" stroke="#2a2a2a" stroke-width="1.79" />
<line x1="655" y1="0" x2="655" y2="40" stroke="#2a2a2a" stroke-width="1.79" />
<line x1="675.9" y1="0" x2="675.9" y2="40" stroke="#2a2a2a" stroke-width="1.79" />
<line x1="697" y1="0" x2="697" y2="40" stroke="#2a2a2a" stroke-width="1.79" />
<line x1="738.5" y1="0" x2="738.5" y2="40" stroke="#2a2a2a" stroke-width="1.79" />
<line x1="716" y1="0" x2="716" y2="45" stroke="#2a2a2a" stroke-width="1.79" stroke-dasharray="4 3"/>
<path d="M726,0 L753,44 M743,0 L716,44" fill="none" stroke="#2a2a2a" stroke-width="1.90" stroke-dasharray="5 3"/>
<line x1="520" y1="18.5" x2="755" y2="18.5" stroke="#2a2a2a" stroke-width="1.79" />
<line x1="520" y1="39.5" x2="755" y2="39.5" stroke="#2a2a2a" stroke-width="1.57" />
<polygon points="494,38 517,38 517,69 494,69" fill="#313131"/>
<rect x="503" y="38" width="4" height="20" fill="#fdfdfd" />
<rect x="503" y="56" width="14" height="4" fill="#fdfdfd" />
<rect x="517" y="41" width="195" height="5.5" rx="0" fill="#bbb" stroke="#2a2a2a" stroke-width="1.12" />
<line x1="517" y1="43.7" x2="712" y2="43.7" stroke="#2a2a2a" stroke-width="1.57" stroke-dasharray="2 1.5"/>
<line x1="517" y1="49" x2="712" y2="49" stroke="#2a2a2a" stroke-width="2.02" stroke-dasharray="1.5 2.5"/>
<rect x="517" y="57.5" width="195" height="5.5" fill="#666" />
<circle cx="521" cy="60" r="2.2" fill="#fdfdfd" stroke="#2a2a2a" stroke-width="1.12" />
<circle cx="567" cy="60" r="2.2" fill="#fdfdfd" stroke="#2a2a2a" stroke-width="1.12" />
<circle cx="614" cy="60" r="2.2" fill="#fdfdfd" stroke="#2a2a2a" stroke-width="1.12" />
<circle cx="711" cy="60" r="2.2" fill="#fdfdfd" stroke="#2a2a2a" stroke-width="1.12" />
<line x1="521" y1="63" x2="552" y2="97" stroke="#2a2a2a" stroke-width="2.46" stroke-dasharray="2 3.5"/>
<path d="M552,97 A46,46 0 0 0 566.5,63" fill="none" stroke="#2a2a2a" stroke-width="1.79" />
<path d="M566,64 A47,48 0 0 0 613,112" fill="none" stroke="#2a2a2a" stroke-width="1.90" />
<line x1="612" y1="62" x2="612" y2="112" stroke="#2a2a2a" stroke-width="1.90" />
<rect x="755" y="0" width="8.5" height="56" fill="#313131" />
<rect x="710" y="50" width="53.5" height="6" fill="#313131" />
<rect x="712.5" y="59.7" width="51" height="9.7" fill="#313131" />
<rect x="731" y="69" width="17" height="459" fill="#313131" />
<rect x="417" y="297" width="28" height="41.5" rx="0" fill="none" stroke="#2a2a2a" stroke-width="1.46" />
<line x1="417" y1="297" x2="445" y2="338.5" stroke="#2a2a2a" stroke-width="1.46" />
<line x1="445" y1="297" x2="417" y2="338.5" stroke="#2a2a2a" stroke-width="1.46" />
<rect x="417" y="338.5" width="28" height="40" rx="0" fill="none" stroke="#2a2a2a" stroke-width="1.46" />
<line x1="417" y1="338.5" x2="445" y2="378.5" stroke="#2a2a2a" stroke-width="1.46" />
<line x1="445" y1="338.5" x2="417" y2="378.5" stroke="#2a2a2a" stroke-width="1.46" />
<line x1="451" y1="297" x2="451" y2="342" stroke="#2a2a2a" stroke-width="1.79" />
<path d="M498,297 A47,45 0 0 1 451,342" fill="none" stroke="#2a2a2a" stroke-width="1.90" />
<rect x="497" y="291" width="234" height="6" fill="#313131" />
<rect x="503" y="291" width="7" height="41" fill="#313131" />
<line x1="510" y1="297" x2="510" y2="331" stroke="#2a2a2a" stroke-width="1.46" />
<rect x="525.5" y="298.3" width="185.3" height="30" rx="0" fill="none" stroke="#2a2a2a" stroke-width="1.57" />
<line x1="525.5" y1="298.3" x2="556.4" y2="328.3" stroke="#2a2a2a" stroke-width="1.34" />
<line x1="556.4" y1="298.3" x2="525.5" y2="328.3" stroke="#2a2a2a" stroke-width="1.34" />
<line x1="556.4" y1="298.3" x2="586.3" y2="328.3" stroke="#2a2a2a" stroke-width="1.34" />
<line x1="586.3" y1="298.3" x2="556.4" y2="328.3" stroke="#2a2a2a" stroke-width="1.34" />
<line x1="586.3" y1="298.3" x2="617.8" y2="328.3" stroke="#2a2a2a" stroke-width="1.34" />
<line x1="617.8" y1="298.3" x2="586.3" y2="328.3" stroke="#2a2a2a" stroke-width="1.34" />
<line x1="617.8" y1="298.3" x2="648.4" y2="328.3" stroke="#2a2a2a" stroke-width="1.34" />
<line x1="648.4" y1="298.3" x2="617.8" y2="328.3" stroke="#2a2a2a" stroke-width="1.34" />
<line x1="648.4" y1="298.3" x2="679.3" y2="328.3" stroke="#2a2a2a" stroke-width="1.34" />
<line x1="679.3" y1="298.3" x2="648.4" y2="328.3" stroke="#2a2a2a" stroke-width="1.34" />
<line x1="679.3" y1="298.3" x2="710.8" y2="328.3" stroke="#2a2a2a" stroke-width="1.34" />
<line x1="710.8" y1="298.3" x2="679.3" y2="328.3" stroke="#2a2a2a" stroke-width="1.34" />
<line x1="556.4" y1="298.3" x2="556.4" y2="328.3" stroke="#2a2a2a" stroke-width="1.46" />
<line x1="586.3" y1="298.3" x2="586.3" y2="328.3" stroke="#2a2a2a" stroke-width="1.46" />
<line x1="617.8" y1="298.3" x2="617.8" y2="328.3" stroke="#2a2a2a" stroke-width="1.46" />
<line x1="648.4" y1="298.3" x2="648.4" y2="328.3" stroke="#2a2a2a" stroke-width="1.46" />
<line x1="679.3" y1="298.3" x2="679.3" y2="328.3" stroke="#2a2a2a" stroke-width="1.46" />
<rect x="710.8" y="297" width="20.2" height="38" fill="#313131" />
<rect x="720.8" y="301.6" width="10" height="25" fill="#fdfdfd" />
<line x1="722" y1="318" x2="729" y2="306" stroke="#2a2a2a" stroke-width="1.79" />
<path d="M510,331.5 A45,46 0 0 1 555,377" fill="none" stroke="#2a2a2a" stroke-width="1.90" />
<text x="0" y="0" font-family="Liberation Sans" font-size="14.29" font-weight="normal" fill="#2a2a2a" stroke="#2a2a2a" stroke-width="0.67" transform="translate(457.80,360.86) scale(0.872,1)" >FLUR</text>
<text x="0" y="0" font-family="Liberation Sans" font-size="15.94" font-weight="normal" fill="#2a2a2a" stroke="#2a2a2a" stroke-width="0.67" transform="translate(570.70,364.00) scale(0.763,1)" >ELTERN</text>
<rect x="417" y="379" width="36" height="6" fill="#313131" />
<rect x="498" y="378" width="57" height="7" fill="#313131" />
<rect x="547.6" y="378" width="6.1" height="142" fill="#313131" />
<rect x="707.5" y="353" width="23.5" height="26.6" rx="0" fill="none" stroke="#2a2a2a" stroke-width="1.57" />
<rect x="554.6" y="393.7" width="26.4" height="50.7" rx="0" fill="none" stroke="#2a2a2a" stroke-width="1.57" />
<path d="M582,410 A9,10 0 0 1 582,430" fill="none" stroke="#2a2a2a" stroke-width="2.69" />
<rect x="554.6" y="458" width="20.4" height="29.7" rx="0" fill="none" stroke="#2a2a2a" stroke-width="1.46" />
<line x1="554.6" y1="458" x2="575.0" y2="487.7" stroke="#2a2a2a" stroke-width="1.46" />
<line x1="575.0" y1="458" x2="554.6" y2="487.7" stroke="#2a2a2a" stroke-width="1.46" />
<rect x="554.6" y="487.7" width="20.4" height="31" rx="0" fill="none" stroke="#2a2a2a" stroke-width="1.46" />
<line x1="554.6" y1="487.7" x2="575.0" y2="518.7" stroke="#2a2a2a" stroke-width="1.46" />
<line x1="575.0" y1="487.7" x2="554.6" y2="518.7" stroke="#2a2a2a" stroke-width="1.46" />
<rect x="624.4" y="381.2" width="105.3" height="101" rx="0" fill="none" stroke="#2a2a2a" stroke-width="1.57" />
<rect x="628" y="384" width="98.6" height="95" rx="0" fill="none" stroke="#2a2a2a" stroke-width="1.34" />
<rect x="693" y="386.7" width="30.6" height="41" rx="0" fill="none" stroke="#2a2a2a" stroke-width="1.79" />
<rect x="693" y="436.8" width="30.6" height="41" rx="0" fill="none" stroke="#2a2a2a" stroke-width="1.79" />
<path d="M685,385 L703,409 L683,403 Z" fill="#fdfdfd" stroke="#2a2a2a" stroke-width="2.02" />
<path d="M682,459 L701,451 L687,479 Z" fill="#fdfdfd" stroke="#2a2a2a" stroke-width="2.02" />
<line x1="702" y1="408" x2="702" y2="452" stroke="#2a2a2a" stroke-width="1.57" />
<rect x="707" y="483.8" width="21" height="26.4" rx="0" fill="none" stroke="#2a2a2a" stroke-width="1.57" />
<line x1="589" y1="479" x2="589" y2="527" stroke="#2a2a2a" stroke-width="1.79" />
<path d="M589,479 A43,46 0 0 1 632,525" fill="none" stroke="#2a2a2a" stroke-width="1.90" />
<rect x="540" y="520.2" width="49" height="9" fill="#313131" />
<rect x="679.5" y="519.7" width="67" height="8.5" fill="#313131" />
<rect x="589" y="525" width="90" height="5.5" rx="0" fill="#888" stroke="#2a2a2a" stroke-width="1.12" />
<circle cx="590" cy="527.8" r="2.3" fill="#fdfdfd" stroke="#2a2a2a" stroke-width="1.12" />
<circle cx="631" cy="527.8" r="2.3" fill="#fdfdfd" stroke="#2a2a2a" stroke-width="1.12" />
<circle cx="676" cy="527.8" r="2.3" fill="#fdfdfd" stroke="#2a2a2a" stroke-width="1.12" />
<line x1="589" y1="538.5" x2="679" y2="538.5" stroke="#2a2a2a" stroke-width="2.02" stroke-dasharray="1.5 2.5"/>
<rect x="587" y="541" width="92" height="5.5" rx="0" fill="#999" stroke="#2a2a2a" stroke-width="1.12" />
<line x1="587" y1="547.5" x2="745" y2="547.5" stroke="#2a2a2a" stroke-width="1.57" />
<rect x="677.5" y="532.8" width="67.5" height="5.7" fill="#313131" />
<rect x="487.5" y="518.4" width="99.5" height="9.4" fill="#313131" />
<rect x="487.5" y="518.4" width="9.5" height="42" fill="#313131" />
<rect x="499.7" y="532.5" width="87.3" height="4.7" fill="#313131" />
<rect x="500" y="532.5" width="4" height="28" fill="#313131" />
<line x1="509" y1="537" x2="509" y2="560" stroke="#2a2a2a" stroke-width="1.57" />
<line x1="530.6" y1="537" x2="530.6" y2="560" stroke="#2a2a2a" stroke-width="1.57" />
<line x1="551.3" y1="537" x2="551.3" y2="560" stroke="#2a2a2a" stroke-width="1.57" />
<line x1="572" y1="537" x2="572" y2="560" stroke="#2a2a2a" stroke-width="1.57" />
<line x1="500" y1="547.5" x2="587" y2="547.5" stroke="#2a2a2a" stroke-width="1.57" />
<line x1="694.4" y1="538" x2="694.4" y2="560" stroke="#2a2a2a" stroke-width="1.57" />
<line x1="715" y1="538" x2="715" y2="560" stroke="#2a2a2a" stroke-width="1.57" />
<line x1="736.6" y1="540" x2="736.6" y2="560" stroke="#777" stroke-width="2.69" />
<line x1="590" y1="546" x2="590" y2="555" stroke="#2a2a2a" stroke-width="1.46" />
<line x1="611" y1="546" x2="611" y2="555" stroke="#2a2a2a" stroke-width="1.46" />
<line x1="632" y1="546" x2="632" y2="555" stroke="#2a2a2a" stroke-width="1.46" />
<line x1="653" y1="546" x2="653" y2="555" stroke="#2a2a2a" stroke-width="1.46" />
<text x="0" y="0" font-family="Liberation Sans" font-size="19.47" font-weight="normal" fill="#2a2a2a" stroke="#2a2a2a" stroke-width="0.50" transform="translate(577.60,566.91) scale(0.958,1)" >umgang</text>
<line x1="420.7" y1="385" x2="420.7" y2="560" stroke="#2a2a2a" stroke-width="1.51" />
<line x1="430.8" y1="385" x2="430.8" y2="560" stroke="#2a2a2a" stroke-width="1.51" />
<line x1="440.9" y1="385" x2="440.9" y2="560" stroke="#2a2a2a" stroke-width="1.51" />
<line x1="451.0" y1="385" x2="451.0" y2="560" stroke="#2a2a2a" stroke-width="1.51" />
<line x1="461.1" y1="385" x2="461.1" y2="560" stroke="#2a2a2a" stroke-width="1.51" />
<line x1="471.2" y1="385" x2="471.2" y2="560" stroke="#2a2a2a" stroke-width="1.51" />
<line x1="481.3" y1="385" x2="481.3" y2="560" stroke="#2a2a2a" stroke-width="1.51" />
<line x1="491.4" y1="385" x2="491.4" y2="560" stroke="#2a2a2a" stroke-width="1.51" />
<line x1="417" y1="386.4" x2="500.6" y2="386.4" stroke="#2a2a2a" stroke-width="1.51" />
<line x1="417" y1="396.5" x2="500.6" y2="396.5" stroke="#2a2a2a" stroke-width="1.51" />
<line x1="417" y1="406.6" x2="500.6" y2="406.6" stroke="#2a2a2a" stroke-width="1.51" />
<line x1="417" y1="416.7" x2="500.6" y2="416.7" stroke="#2a2a2a" stroke-width="1.51" />
<line x1="417" y1="426.8" x2="500.6" y2="426.8" stroke="#2a2a2a" stroke-width="1.51" />
<line x1="417" y1="436.9" x2="500.6" y2="436.9" stroke="#2a2a2a" stroke-width="1.51" />
<line x1="417" y1="447.0" x2="500.6" y2="447.0" stroke="#2a2a2a" stroke-width="1.51" />
<line x1="417" y1="457.1" x2="500.6" y2="457.1" stroke="#2a2a2a" stroke-width="1.51" />
<line x1="417" y1="467.2" x2="500.6" y2="467.2" stroke="#2a2a2a" stroke-width="1.51" />
<line x1="417" y1="477.3" x2="500.6" y2="477.3" stroke="#2a2a2a" stroke-width="1.51" />
<line x1="417" y1="487.4" x2="500.6" y2="487.4" stroke="#2a2a2a" stroke-width="1.51" />
<line x1="417" y1="497.5" x2="500.6" y2="497.5" stroke="#2a2a2a" stroke-width="1.51" />
<line x1="417" y1="507.6" x2="500.6" y2="507.6" stroke="#2a2a2a" stroke-width="1.51" />
<line x1="417" y1="517.7" x2="500.6" y2="517.7" stroke="#2a2a2a" stroke-width="1.51" />
<line x1="417" y1="527.8" x2="500.6" y2="527.8" stroke="#2a2a2a" stroke-width="1.51" />
<line x1="417" y1="537.9" x2="500.6" y2="537.9" stroke="#2a2a2a" stroke-width="1.51" />
<line x1="417" y1="548.0" x2="500.6" y2="548.0" stroke="#2a2a2a" stroke-width="1.51" />
<line x1="417" y1="558.1" x2="500.6" y2="558.1" stroke="#2a2a2a" stroke-width="1.51" />
<rect x="424" y="417.5" width="25.6" height="32.10000000000002" rx="5" fill="#fdfdfd" stroke="#2a2a2a" stroke-width="2.02" />
<path d="M428,421.5 L440,421.5 Q447,421.5 447,433.55 Q447,445.6 440,445.6 L428,445.6 Z" fill="none" stroke="#2a2a2a" stroke-width="1.46" />
<circle cx="432" cy="433.55" r="1.4" fill="#2a2a2a" stroke="#2a2a2a" stroke-width="1.12" />
<rect x="424" y="458" width="25.6" height="33" rx="5" fill="#fdfdfd" stroke="#2a2a2a" stroke-width="2.02" />
<path d="M428,462 L440,462 Q447,462 447,474.5 Q447,487 440,487 L428,487 Z" fill="none" stroke="#2a2a2a" stroke-width="1.46" />
<circle cx="432" cy="474.5" r="1.4" fill="#2a2a2a" stroke="#2a2a2a" stroke-width="1.12" />
<rect x="457" y="461" width="35" height="15" fill="#fdfdfd" />
<text x="0" y="0" font-family="Liberation Sans" font-size="16.67" font-weight="normal" fill="#2a2a2a" stroke="#2a2a2a" stroke-width="0.67" transform="translate(461.00,474.00) scale(0.867,1)" >BAD</text>
<path d="M453,385 A45,45 0 0 0 498,430" fill="none" stroke="#2a2a2a" stroke-width="1.79" />
<line x1="498" y1="385" x2="498" y2="430" stroke="#2a2a2a" stroke-width="1.57" />
<rect x="500.6" y="385" width="47" height="133.6" fill="#fdfdfd" />
<rect x="502" y="441" width="40" height="41" rx="4" fill="none" stroke="#2a2a2a" stroke-width="2.02" />
<line x1="507" y1="447" x2="537" y2="477" stroke="#2a2a2a" stroke-width="2.02" />
<line x1="507" y1="449" x2="507" y2="477" stroke="#2a2a2a" stroke-width="1.34" />
<line x1="507" y1="446" x2="537" y2="446" stroke="#2a2a2a" stroke-width="1.34" />
<circle cx="507" cy="446" r="1.8" fill="#2a2a2a" stroke="#2a2a2a" stroke-width="1.12" />
<rect x="545" y="378" width="8.4" height="142" fill="#313131" />
<ellipse cx="453" cy="558" rx="10" ry="12" fill="#fdfdfd" stroke="#2a2a2a" stroke-width="1.8"/>
<rect x="105.3" y="406.8" width="104.6" height="51.5" rx="8" fill="none" stroke="#2a2a2a" stroke-width="1.79" />
<rect x="112.7" y="415.6" width="89.8" height="39.8" rx="2" fill="none" stroke="#2a2a2a" stroke-width="1.79" />
<path d="M117,420 L130,413 L140,428 L127,436 Z" fill="#fdfdfd" stroke="#2a2a2a" stroke-width="1.57" />
<path d="M128,418 L143,412 L149,428 L134,433 Z" fill="#fdfdfd" stroke="#2a2a2a" stroke-width="1.57" />
<path d="M190,438 L201,428 L208,440 L197,450 Z" fill="#fdfdfd" stroke="#2a2a2a" stroke-width="1.57" />
<line x1="261.4" y1="402" x2="261.4" y2="448" stroke="#2a2a2a" stroke-width="1.79" />
<rect x="263" y="395" width="22" height="7.5" fill="#313131" />
<rect x="143.6" y="470" width="32.4" height="29.6" rx="0" fill="none" stroke="#2a2a2a" stroke-width="1.79" />
<text x="0" y="0" font-family="Liberation Sans" font-size="17.10" font-weight="normal" fill="#2a2a2a" stroke="#2a2a2a" stroke-width="0.67" transform="translate(180.40,492.20) scale(0.778,1)" >KIND</text>
<g transform="translate(128,530) rotate(15)"><path d="M-17,-12 L-20,0 Q-18,15 0,18 Q18,15 20,0 L17,-12" fill="none" stroke="#2a2a2a" stroke-width="1.6"/><path d="M-13,-14 L13,-14 L15,0 Q12,10 0,12 Q-12,10 -15,0 Z" fill="#fdfdfd" stroke="#2a2a2a" stroke-width="1.6"/><rect x="-21" y="-16" width="5" height="14" fill="#fdfdfd" stroke="#2a2a2a" stroke-width="1.4" transform="rotate(-8)"/><rect x="16" y="-16" width="5" height="14" fill="#fdfdfd" stroke="#2a2a2a" stroke-width="1.4" transform="rotate(8)"/></g>
<g transform="translate(188,530) rotate(-15)"><path d="M-17,-12 L-20,0 Q-18,15 0,18 Q18,15 20,0 L17,-12" fill="none" stroke="#2a2a2a" stroke-width="1.6"/><path d="M-13,-14 L13,-14 L15,0 Q12,10 0,12 Q-12,10 -15,0 Z" fill="#fdfdfd" stroke="#2a2a2a" stroke-width="1.6"/><rect x="-21" y="-16" width="5" height="14" fill="#fdfdfd" stroke="#2a2a2a" stroke-width="1.4" transform="rotate(-8)"/><rect x="16" y="-16" width="5" height="14" fill="#fdfdfd" stroke="#2a2a2a" stroke-width="1.4" transform="rotate(8)"/></g>
<path d="M212,560 A36,24 0 0 1 248,540" fill="none" stroke="#2a2a2a" stroke-width="1.90" />
<line x1="248" y1="540" x2="248" y2="560" stroke="#2a2a2a" stroke-width="1.79" />
<text x="0" y="0" font-family="Liberation Sans" font-size="16.90" font-weight="normal" fill="#2a2a2a" stroke="#2a2a2a" stroke-width="0.67" transform="translate(445.00,167.83) scale(0.792,1)" >WOHNEN</text>
<text x="0" y="0" font-family="Liberation Sans" font-size="15.49" font-weight="normal" fill="#2a2a2a" stroke="#2a2a2a" stroke-width="0.67" transform="translate(445.00,187.85) scale(0.781,1)" >ESSEN</text>
</svg></body></html>
